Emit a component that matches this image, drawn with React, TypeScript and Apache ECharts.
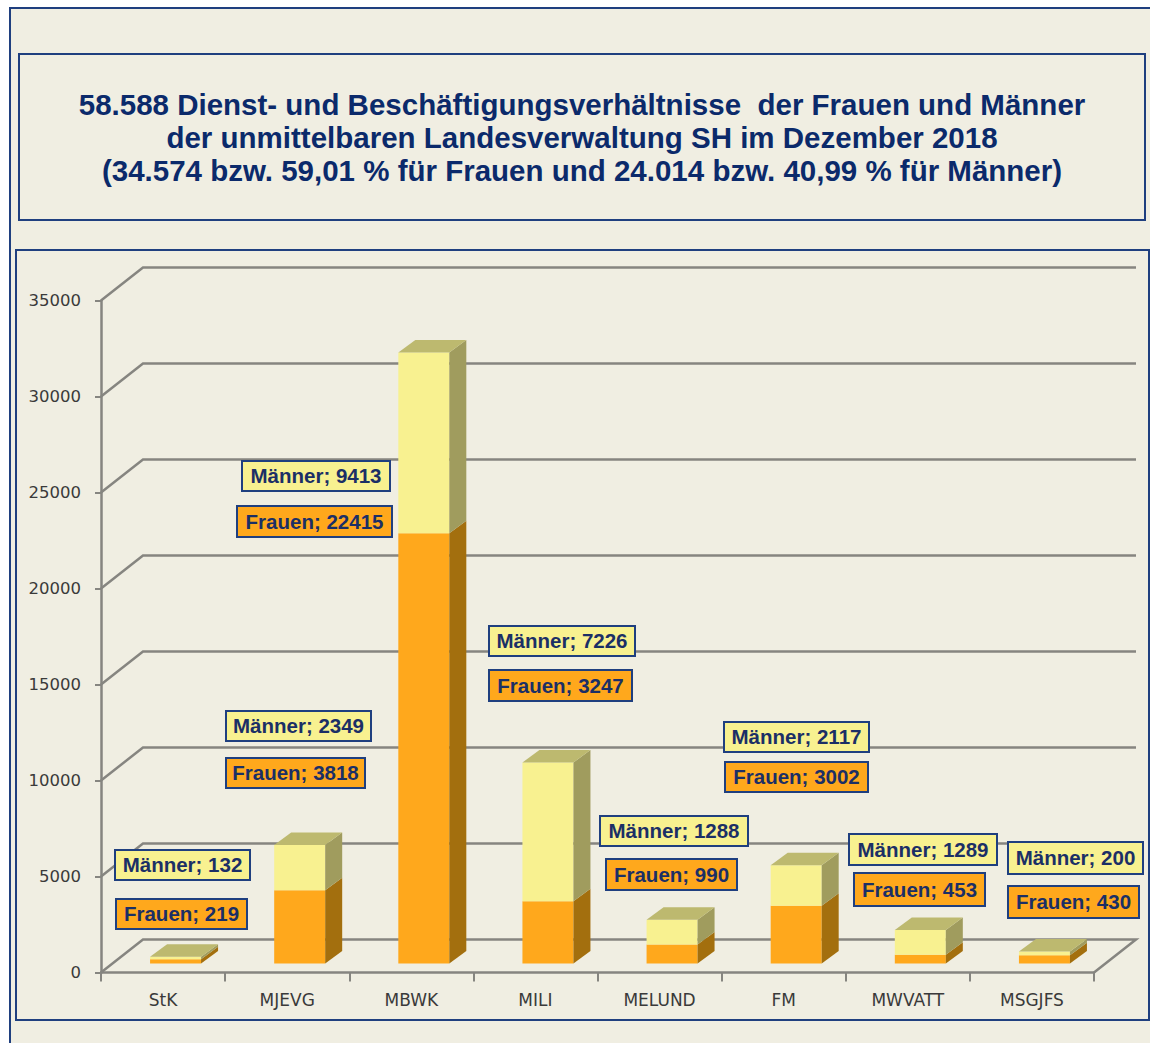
import React, { useEffect, useRef } from "react";
import * as echarts from "echarts";

const categories = ["StK", "MJEVG", "MBWK", "MILI", "MELUND", "FM", "MWVATT", "MSGJFS"];
const frauen = [219, 3818, 22415, 3247, 990, 3002, 453, 430];
const maenner = [132, 2349, 9413, 7226, 1288, 2117, 1289, 200];
const yTicks = [0, 5000, 10000, 15000, 20000, 25000, 30000, 35000];
const titleLines = [
  "58.588 Dienst- und Beschäftigungsverhältnisse  der Frauen und Männer",
  "der unmittelbaren Landesverwaltung SH im Dezember 2018",
  "(34.574 bzw. 59,01 % für Frauen und 24.014 bzw. 40,99 % für Männer)",
];
// hand-placed label boxes [x0, y0, x1, y1], as in the source picture
const maennerBoxes = [
  [115, 850, 250, 880], [226, 711, 371, 741], [242, 461, 390, 491], [489, 626, 635, 656],
  [600, 816, 748, 846], [724, 722, 869, 752], [849, 834, 997, 865], [1008, 842, 1143, 874],
];
const frauenBoxes = [
  [116, 899, 247, 929], [226, 758, 365, 788], [237, 506, 392, 537], [489, 670, 632, 701],
  [606, 859, 737, 890], [725, 762, 868, 792], [854, 873, 985, 906], [1008, 886, 1139, 918],
];

const BG = "#F0EEE2";
const FRAME = "#1F3F7F";
const INK = "#1B2F66";
const WALL = "#868580";
const DEPTH_X = 42;
const DEPTH_Y = 33;
const BAR_DX = 17;
const BAR_DY = 12.5;
const SHIFT_X = 12.5;
const SHIFT_Y = 9;
const BAR_W = 51;

function wallItem(_p: any, api: any) {
  const v = api.value(0);
  const band = api.size([1, 0])[0];
  const a = api.coord([0, v]);
  const b = api.coord([categories.length - 1, v]);
  const x0 = a[0] - band / 2;
  const x1 = b[0] + band / 2;
  const y = a[1];
  const pts =
    v === 0
      ? [[x0, y], [x0 + DEPTH_X, y - DEPTH_Y], [x1 + DEPTH_X, y - DEPTH_Y], [x1, y]]
      : [[x0, y], [x0 + DEPTH_X, y - DEPTH_Y], [x1 + DEPTH_X, y - DEPTH_Y]];
  return {
    type: "polyline",
    shape: { points: pts },
    style: { stroke: WALL, lineWidth: 2.5, fill: "none" },
    silent: true,
  };
}

function barRenderer(front: string, side: string, top: string | null) {
  return (_p: any, api: any) => {
    const i = api.value(0);
    const lo = api.coord([i, api.value(1)]);
    const hi = api.coord([i, api.value(2)]);
    const x0 = lo[0] + SHIFT_X - BAR_W / 2;
    const x1 = x0 + BAR_W;
    const yb = lo[1] - SHIFT_Y;
    const yt = hi[1] - SHIFT_Y;
    const children: any[] = [
      {
        type: "polygon",
        shape: { points: [[x0, yb], [x1, yb], [x1, yt], [x0, yt]] },
        style: { fill: front },
      },
      {
        type: "polygon",
        shape: { points: [[x1, yb], [x1 + BAR_DX, yb - BAR_DY], [x1 + BAR_DX, yt - BAR_DY], [x1, yt]] },
        style: { fill: side },
      },
    ];
    if (top) {
      children.push({
        type: "polygon",
        shape: { points: [[x0, yt], [x1, yt], [x1 + BAR_DX, yt - BAR_DY], [x0 + BAR_DX, yt - BAR_DY]] },
        style: { fill: top },
      });
    }
    return { type: "group", children };
  };
}

function labelBox(box: number[], text: string, fill: string) {
  const [x0, y0, x1, y1] = box;
  return [
    {
      type: "rect",
      z: 50,
      shape: { x: x0, y: y0, width: x1 - x0, height: y1 - y0 },
      style: { fill, stroke: FRAME, lineWidth: 2 },
      silent: true,
    },
    {
      type: "text",
      z: 51,
      x: (x0 + x1) / 2,
      y: (y0 + y1) / 2 - 0.5,
      style: {
        text,
        fill: INK,
        font: 'bold 20.5px "Liberation Sans"',
        align: "center",
        verticalAlign: "middle",
      },
      silent: true,
    },
  ];
}

export default function App() {
  const ref = useRef<HTMLDivElement>(null);
  useEffect(() => {
    const chart = echarts.init(ref.current!, null, { renderer: "svg" });
    const graphicEls: any[] = [
      {
        type: "rect",
        z: -10,
        shape: { x: 10, y: 8, width: 1200, height: 1100 },
        style: { fill: BG, stroke: FRAME, lineWidth: 2 },
        silent: true,
      },
      {
        type: "rect",
        z: -9,
        shape: { x: 19, y: 54, width: 1126, height: 166 },
        style: { fill: BG, stroke: FRAME, lineWidth: 2 },
        silent: true,
      },
      {
        type: "rect",
        z: -9,
        shape: { x: 16, y: 250, width: 1133, height: 770 },
        style: { fill: BG, stroke: FRAME, lineWidth: 2 },
        silent: true,
      },
    ];
    categories.forEach((_c, i) => {
      graphicEls.push(...labelBox(maennerBoxes[i], `Männer; ${maenner[i]}`, "#F8F190"));
      graphicEls.push(...labelBox(frauenBoxes[i], `Frauen; ${frauen[i]}`, "#FFA81C"));
    });

    chart.setOption({
      animation: false,
      backgroundColor: "transparent",
      title: {
        text: titleLines.join("\n"),
        left: 577,
        top: 83,
        textAlign: "center",
        textStyle: {
          fontFamily: "Liberation Sans",
          fontWeight: "bold",
          fontSize: 29.5,
          lineHeight: 33,
          color: "#0B2A6B",
        },
      },
      grid: { left: 101, top: 300.5, width: 993, height: 672 },
      xAxis: {
        type: "category",
        data: categories,
        axisLine: { lineStyle: { color: WALL, width: 2.5 } },
        axisTick: { show: true, length: 9, lineStyle: { color: WALL, width: 2 } },
        axisLabel: {
          fontFamily: "DejaVu Sans",
          fontSize: 17,
          color: "#3A3A3A",
          margin: 19,
        },
      },
      yAxis: {
        type: "value",
        min: 0,
        max: 35000,
        interval: 5000,
        splitLine: { show: false },
        axisLine: { show: true, lineStyle: { color: WALL, width: 2.5 } },
        axisTick: { show: true, length: 6, lineStyle: { color: WALL, width: 2 } },
        axisLabel: {
          fontFamily: "DejaVu Sans",
          fontSize: 16.5,
          color: "#3A3A3A",
          margin: 20,
          formatter: (v: number) => String(v),
        },
      },
      graphic: { elements: graphicEls },
      series: [
        {
          type: "custom",
          name: "Wand",
          z: 1,
          data: yTicks.map((v) => [v]),
          encode: { y: 0 },
          renderItem: wallItem,
          silent: true,
        },
        {
          type: "custom",
          name: "Frauen",
          z: 3,
          data: frauen.map((v, i) => [i, 0, v]),
          encode: { x: 0, y: [1, 2] },
          renderItem: barRenderer("#FFA81C", "#A36F0E", null),
        },
        {
          type: "custom",
          name: "Männer",
          z: 4,
          data: maenner.map((v, i) => [i, frauen[i], frauen[i] + v]),
          encode: { x: 0, y: [1, 2] },
          renderItem: barRenderer("#F8F190", "#A09C5E", "#BDB96F"),
        },
      ],
    });
    return () => chart.dispose();
  }, []);
  return (
    <div
      ref={ref}
      style={{ position: "absolute", left: 0, top: 0, width: 1150, height: 1043, overflow: "hidden" }}
    />
  );
}
